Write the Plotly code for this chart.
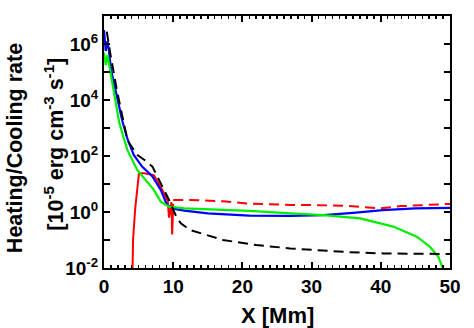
import plotly.graph_objects as go

# Blue solid
blue_x = [0.0, 0.25, 0.5, 0.7, 1.0, 1.9, 2.65, 3.4, 4.3, 5.5, 7.0, 8.2, 9.1, 10.4, 11.6, 15.0, 21.0, 27.0, 31.7, 36.0, 40.3, 45.0, 50.0]
blue_logy = [6.5, 5.75, 6.1, 5.8, 5.1, 4.05, 3.25, 2.6, 2.04, 1.62, 1.27, 0.79, 0.25, 0.1, 0.05, -0.05, -0.13, -0.14, -0.11, -0.03, 0.07, 0.13, 0.15]

# Green solid
green_x = [0.0, 0.25, 0.5, 1.0, 1.6, 2.2, 2.9, 3.4, 4.8, 6.0, 7.2, 8.2, 9.4, 11.6, 15.0, 21.0, 27.0, 31.7, 37.0, 41.8, 45.2, 47.1, 48.3, 49.0, 49.3]
green_logy = [5.7, 5.25, 5.6, 4.9, 4.0, 3.2, 2.6, 2.2, 1.5, 1.14, 0.79, 0.37, 0.19, 0.13, 0.1, 0.04, -0.05, -0.11, -0.23, -0.52, -0.88, -1.24, -1.6, -1.97, -2.2]

# Black dashed
black_x = [0.4, 0.9, 1.9, 2.8, 3.4, 4.8, 5.9, 7.0, 8.4, 9.4, 10.5, 11.1, 12.4, 17.2, 22.0, 26.9, 30.7, 35.0, 40.4, 45.0, 50.0]
black_logy = [6.44, 5.67, 4.3, 3.2, 2.55, 2.04, 1.85, 1.62, 0.9, 0.43, -0.2, -0.4, -0.64, -1.0, -1.18, -1.3, -1.36, -1.43, -1.48, -1.5, -1.5]

# Red solid
red_x = [4.05, 4.2, 4.5, 4.8, 5.05, 5.8, 7.2, 8.2, 8.9, 9.2, 9.4, 9.6, 9.75, 9.85, 10.0]
red_logy = [-3.0, -1.0, 0.1, 0.9, 1.38, 1.38, 1.32, 0.9, 0.55, 0.4, -0.2, 0.25, 0.35, -0.8, 0.3]

# Red dashed
redd_x = [10.0, 12.4, 17.2, 21.0, 26.9, 30.0, 35.0, 39.7, 43.0, 46.4, 50.0]
redd_logy = [0.43, 0.43, 0.38, 0.3, 0.25, 0.25, 0.22, 0.13, 0.21, 0.25, 0.29]

y_tickvals = [1e-2, 1e0, 1e2, 1e4, 1e6]
y_ticktext = ["10<sup>-2</sup>", "10<sup>0</sup>", "10<sup>2</sup>", "10<sup>4</sup>", "10<sup>6</sup>"]
x_tickvals = [0, 10, 20, 30, 40, 50]
x_ticktext = ["0", "10", "20", "30", "40", "50"]

y_title_1 = "Heating/Cooling rate"
y_title_2 = "[10<sup>-5</sup> erg cm<sup>-3</sup> s<sup>-1</sup>]"
x_title = "X [Mm]"


def pw(v):
    return [10 ** a for a in v]


fig = go.Figure()
fig.add_trace(go.Scatter(x=red_x, y=pw(red_logy), mode="lines",
                         line=dict(color="#ff0000", width=2)))
fig.add_trace(go.Scatter(x=blue_x, y=pw(blue_logy), mode="lines",
                         line=dict(color="#0000ff", width=2.2)))
fig.add_trace(go.Scatter(x=green_x, y=pw(green_logy), mode="lines",
                         line=dict(color="#00ee00", width=2.2)))
fig.add_trace(go.Scatter(x=redd_x, y=pw(redd_logy), mode="lines",
                         line=dict(color="#ff0000", width=2, dash="10px,6px")))
fig.add_trace(go.Scatter(x=black_x, y=pw(black_logy), mode="lines",
                         line=dict(color="#000000", width=2, dash="10px,6px")))

font = dict(family="Liberation Sans, Arial, sans-serif", color="black", weight="bold")

fig.update_layout(
    width=474, height=328,
    margin=dict(l=104, r=24, t=16, b=60),
    paper_bgcolor="white", plot_bgcolor="white",
    showlegend=False,
    font=font,
)
fig.update_xaxes(
    range=[0, 50], tickvals=x_tickvals, ticktext=x_ticktext,
    ticks="inside", ticklen=6, tickwidth=2, tickcolor="black",
    showline=True, linewidth=2, linecolor="black", mirror="ticks",
    showgrid=False, zeroline=False,
    tickfont=dict(size=19, **font),
    minor=dict(dtick=1, ticks="inside", ticklen=3, tickwidth=1.5, tickcolor="black", showgrid=False),
)
fig.update_yaxes(
    type="log", range=[-2, 7], tickvals=y_tickvals, ticktext=y_ticktext,
    ticks="inside", ticklen=6, tickwidth=2, tickcolor="black",
    showline=True, linewidth=2, linecolor="black", mirror="ticks",
    showgrid=False, zeroline=False,
    tickfont=dict(size=19, **font),
    minor=dict(tickvals=[1e-1, 1e1, 1e3, 1e5], ticks="inside", ticklen=6, tickwidth=2, tickcolor="black", showgrid=False),
)

fig.add_annotation(text=y_title_1, xref="paper", yref="paper", x=-0.257, y=0.476,
                   xanchor="center", yanchor="middle", textangle=-90, showarrow=False,
                   font=dict(size=21.5, **font))
fig.add_annotation(text=y_title_2, xref="paper", yref="paper", x=-0.147, y=0.49,
                   xanchor="center", yanchor="middle", textangle=-90, showarrow=False,
                   font=dict(size=21.5, **font))
fig.add_annotation(text=x_title, xref="paper", yref="paper", x=0.5, y=-0.19,
                   xanchor="center", yanchor="middle", showarrow=False,
                   font=dict(size=22, **font))

fig.write_html("out.html", config={"displayModeBar": False, "staticPlot": True},
               post_script="document.body.style.margin='0px';")
